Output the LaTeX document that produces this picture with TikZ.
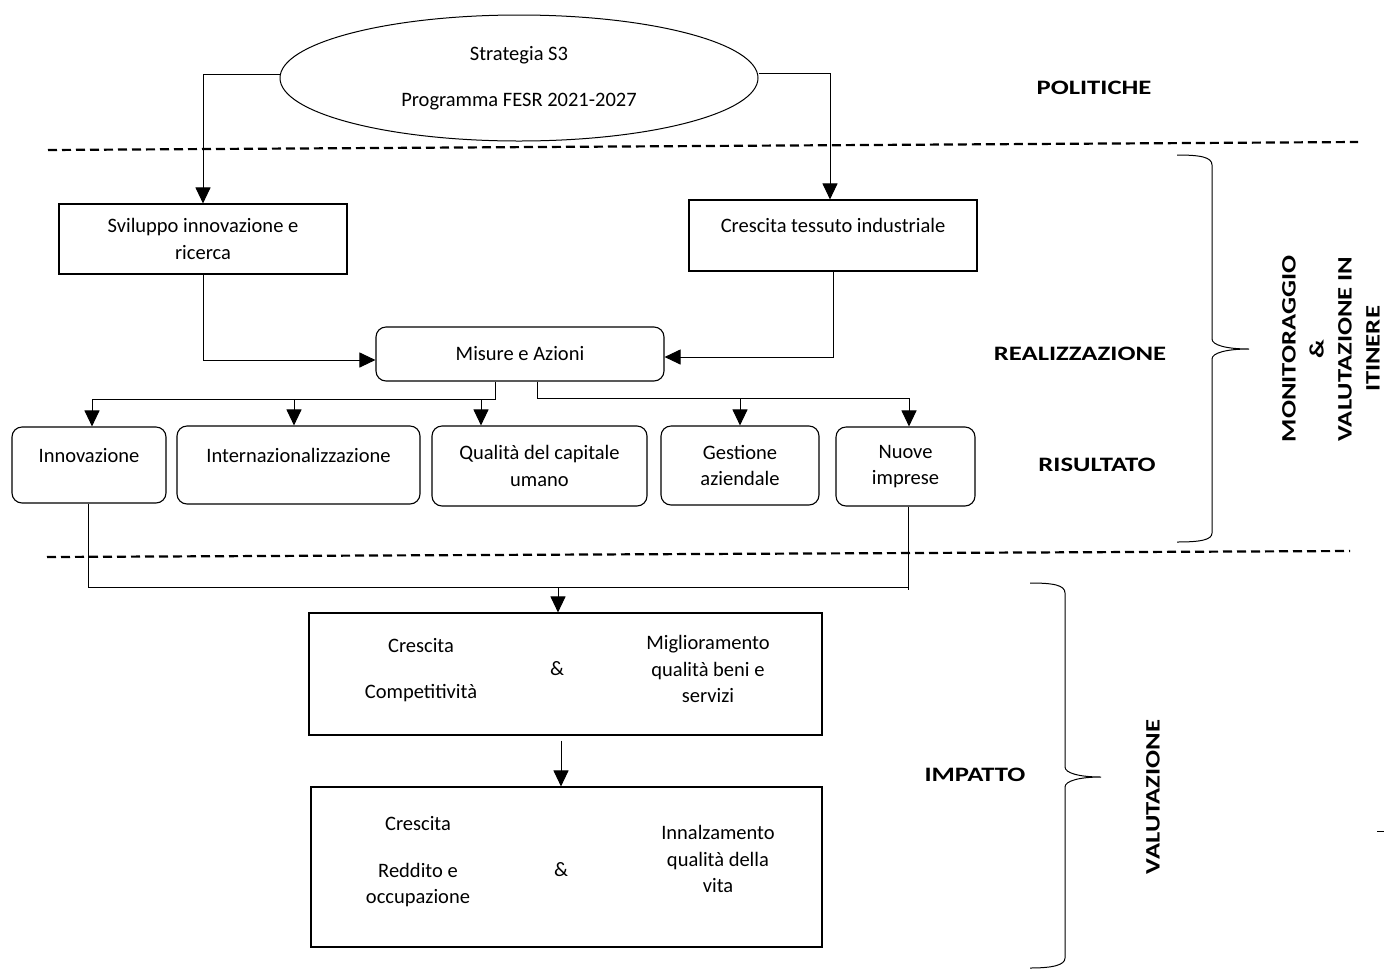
\documentclass[tikz,border=0pt]{standalone}
\usepackage{fontspec}
\setmainfont{Carlito}
\newfontfamily\lblfont[FakeStretch=1.3]{Carlito}
\usetikzlibrary{arrows.meta,shapes.geometric}
\begin{document}
\begin{tikzpicture}[x=1pt,y=-1pt,
  every node/.style={font=\fontsize{20.5}{26.5}\selectfont, inner sep=0pt},
  box/.style={draw, line width=1.1pt, align=center},
  rbox/.style={box, rounded corners=10pt},
  one/.style={text height=15pt, text depth=21pt},
  ln/.style={line width=1pt},
  arr/.style={ln, -{Triangle[length=16pt,width=15pt]}},
  sep/.style={line width=2.2pt, dash pattern=on 9pt off 5pt},
  lbl/.style={font=\lblfont\bfseries\fontsize{20.5}{28}\selectfont},
  brace/.style={line width=1pt}]
\useasboundingbox (0,0) rectangle (1384,970);

% separators
\draw[sep] (48,150) -- (1358,142);
\draw[sep] (47,557) -- (1350,551);

% top
\node[draw, ellipse, line width=1pt, minimum width=478pt, minimum height=126pt, align=center] (ell) at (519,78) {Strategia S3\\[20pt]Programma FESR 2021-2027};
\node[box, minimum width=288pt, minimum height=70pt] (svil) at (203,239) {Sviluppo innovazione e\\ricerca};
\node[box, one, minimum width=288pt, minimum height=71pt] (cresc) at (833,235.5) {Crescita tessuto industriale};
\node[rbox, minimum width=288pt, minimum height=54pt] (mis) at (520,354) {Misure e Azioni};

% row
\node[rbox, one, minimum width=154pt, minimum height=76pt] (innov) at (89,465) {Innovazione};
\node[rbox, one, minimum width=243pt, minimum height=78pt] (inter) at (298.5,465) {Internazionalizzazione};
\node[rbox, minimum width=215pt, minimum height=80pt] (qual) at (539.5,466) {Qualità del capitale\\umano};
\node[rbox, minimum width=158pt, minimum height=79pt] (gest) at (740,465.5) {Gestione\\aziendale};
\node[rbox, minimum width=139pt, minimum height=79pt] (nuove) at (905.5,466.5) {Nuove\\imprese};

% impact boxes
\node[box, minimum width=513pt, minimum height=122pt] (comp) at (565.5,674) {};
\node[align=center] (t1) at (421,670) {Crescita\\[20pt]Competitività};
\node (t2) at (557,669) {\&};
\node[align=center] (t3) at (708,669) {Miglioramento\\qualità beni e\\servizi};

\node[box, minimum width=511pt, minimum height=160pt] (vita) at (566.5,867) {};
\node (t4) at (418,824) {Crescita};
\node[align=center] (t5) at (418,885) {Reddito e\\occupazione};
\node (t6) at (561,870) {\&};
\node[align=center] (t7) at (718,859) {Innalzamento\\qualità della\\vita};

% connectors top
\draw[arr] ([yshift=4pt]ell.west) -| (svil.north);
\draw[arr] ([yshift=5pt]ell.east) -| ([xshift=-3pt]cresc.north);
\draw[arr] (svil.south) |- ([yshift=-6pt]mis.west);
\draw[arr] (cresc.south) |- ([yshift=-3pt]mis.east);

% branches
\coordinate (jL) at (495,399);
\coordinate (jR) at (537,398);
\draw[ln] (jL |- mis.south) -- (jL) -- ([xshift=3pt]jL -| innov.north);
\draw[arr] ([xshift=3pt]jL -| innov.north) -- ([xshift=3pt]innov.north);
\draw[arr] ([xshift=-4.5pt]jL -| inter.north) -- ([xshift=-4.5pt]inter.north);
\draw[arr] ([xshift=-58.5pt]jL -| qual.north) -- ([xshift=-58.5pt]qual.north);
\draw[ln] (jR |- mis.south) -- (jR) -- ([xshift=3.5pt]jR -| nuove.north);
\draw[arr] (jR -| gest.north) -- (gest.north);
\draw[arr] ([xshift=3.5pt]jR -| nuove.north) -- ([xshift=3.5pt]nuove.north);

% lower connectors
\coordinate (jB) at (558,587);
\draw[ln] ([xshift=-1pt]innov.south) |- ([xshift=2.5pt]nuove.south |- jB);
\draw[ln] ([xshift=2.5pt]nuove.south) -- ([xshift=2.5pt,yshift=-3pt]nuove.south |- jB);
\draw[arr] (jB) -- (jB |- comp.north);
\draw[arr] ([xshift=-4.5pt,yshift=-5pt]comp.south) -- ([xshift=-5.5pt]vita.north);

% labels
\node[lbl] (pol) at (1094,88) {POLITICHE};
\node[lbl] (real) at (1080,354) {REALIZZAZIONE};
\node[lbl] (ris) at (1097,465) {RISULTATO};
\node[lbl] (imp) at (975,775) {IMPATTO};
\node[lbl, rotate=90, align=center] (mon) at (1331,349) {MONITORAGGIO\\\&\\VALUTAZIONE IN\\ITINERE};
\node[lbl, rotate=90] (val) at (1153,797) {VALUTAZIONE};

% braces
\draw[brace] (1177,155) .. controls (1200,155) and (1212,157) .. (1212,165) -- (1212,339)
  .. controls (1212,345) and (1226,349) .. (1249,349)
  .. controls (1226,349) and (1212,353) .. (1212,359) -- (1212,533)
  .. controls (1212,540) and (1200,542) .. (1177,542);
\draw[brace] (1030,583) .. controls (1053,583) and (1065,585) .. (1065,593) -- (1065,767)
  .. controls (1065,773) and (1079,777) .. (1101,777)
  .. controls (1079,777) and (1065,781) .. (1065,787) -- (1065,958)
  .. controls (1065,965) and (1053,968) .. (1030,968);

% stray mark
\draw[ln] (1377,831) -- (1384,831);
\end{tikzpicture}
\end{document}
